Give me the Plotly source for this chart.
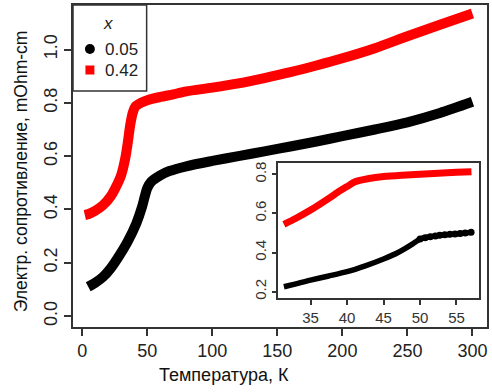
import plotly.graph_objects as go

# ---- data ----
t_black = [4.6, 10, 16, 22, 28.8, 35, 41.6, 46, 48, 50, 53, 60, 67, 80, 100, 120, 140, 160, 180, 200, 225, 250, 275, 300]
r_black = [0.11, 0.125, 0.147, 0.18, 0.229, 0.28, 0.348, 0.41, 0.447, 0.48, 0.504, 0.528, 0.544, 0.562, 0.582, 0.60, 0.618, 0.636, 0.655, 0.675, 0.70, 0.727, 0.762, 0.804]

t_red = [2, 5, 10, 16, 22, 26, 30, 33, 35, 37, 39, 41, 45, 50, 60, 70, 80, 100, 120, 140, 160, 180, 200, 225, 250, 275, 300]
r_red = [0.379, 0.383, 0.395, 0.416, 0.45, 0.485, 0.53, 0.59, 0.65, 0.72, 0.765, 0.787, 0.80, 0.81, 0.822, 0.832, 0.843, 0.857, 0.873, 0.893, 0.915, 0.94, 0.967, 1.005, 1.05, 1.093, 1.135]

ti_black = [31.35, 33, 35, 37.5, 40, 42.5, 45, 47, 48, 49, 50, 50.7, 51.4, 52.1, 52.7, 53.4, 54.1, 54.8, 55.5, 56.2, 57.0]
ri_black = [0.225, 0.24, 0.259, 0.28, 0.302, 0.332, 0.367, 0.40, 0.421, 0.444, 0.469, 0.476, 0.481, 0.485, 0.488, 0.491, 0.493, 0.495, 0.497, 0.50, 0.503]

ti_red = [31.35, 33, 35, 37.5, 39, 40, 41.1, 43, 45, 47.5, 50, 52.5, 55, 57.05]
ri_red = [0.544, 0.575, 0.617, 0.677, 0.715, 0.737, 0.762, 0.778, 0.788, 0.795, 0.80, 0.805, 0.81, 0.813]

series_names = ["0.05", "0.42"]
x_ticks_main = [0, 50, 100, 150, 200, 250, 300]
y_ticks_main = [0.0, 0.2, 0.4, 0.6, 0.8, 1.0]
y_ticklabels_main = ["0.0", "0.2", "0.4", "0.6", "0.8", "1.0"]
x_ticks_inset = [35, 40, 45, 50, 55]
y_ticks_inset = [0.2, 0.4, 0.6, 0.8]

# ---- layout helpers (pixel -> paper) ----
L, R, T, B = 73, 489, 5, 327
W, H = 492, 392
def px(X):
    return (X - L) / (R - L)
def py(Y):
    return (B - Y) / (B - T)

FONT = "Liberation Sans, Arial, sans-serif"
fig = go.Figure()

fig.add_trace(go.Scatter(x=t_black, y=r_black, mode="lines",
                         line=dict(color="black", width=10, shape="spline", smoothing=0.8),
                         showlegend=False, xaxis="x", yaxis="y"))
fig.add_trace(go.Scatter(x=t_red, y=r_red, mode="lines",
                         line=dict(color="#ff0000", width=10, shape="spline", smoothing=0.8),
                         showlegend=False, xaxis="x", yaxis="y"))

# inset: individual dots only visible above the kink (T >= 50)
dot_sizes = [7 if t >= 50 else 0 for t in ti_black]
fig.add_trace(go.Scatter(x=ti_black, y=ri_black, mode="lines+markers",
                         line=dict(color="black", width=5.5, shape="spline", smoothing=0.6),
                         marker=dict(color="black", size=dot_sizes, symbol="circle",
                                     line=dict(width=0), opacity=1),
                         showlegend=False, xaxis="x2", yaxis="y2"))
fig.add_trace(go.Scatter(x=ti_red, y=ri_red, mode="lines",
                         line=dict(color="#ff0000", width=7, shape="spline", smoothing=0.8),
                         showlegend=False, xaxis="x2", yaxis="y2"))

axis_common = dict(showline=True, mirror=True, linecolor="#333", linewidth=1.5,
                   ticks="outside", ticklen=7, tickcolor="#333", tickwidth=1.5,
                   showgrid=False, zeroline=False,
                   tickfont=dict(family=FONT, size=18, color="#222"))
inset_common = {**axis_common, "tickfont": dict(family=FONT, size=15, color="#333"), "ticklen": 5}

fig.update_layout(
    width=W, height=H,
    margin=dict(l=L, r=W - R, t=T, b=H - B),
    paper_bgcolor="white", plot_bgcolor="white",
    xaxis=dict(domain=[0, 1], range=[-7.1, 311.2], tickvals=x_ticks_main, **axis_common),
    yaxis=dict(domain=[0, 1], range=[-0.041, 1.167], tickvals=y_ticks_main,
               ticktext=y_ticklabels_main, tickangle=-90, **axis_common),
    xaxis2=dict(domain=[px(279.3), px(480.7)], anchor="y2", range=[30.58, 58.05],
                tickvals=x_ticks_inset, **inset_common),
    yaxis2=dict(domain=[py(298.3), py(163.3)], anchor="x2", range=[0.166, 0.856],
                tickvals=y_ticks_inset, tickangle=-90, tickformat=".1f", **inset_common),
)

# white background behind inset
fig.add_shape(type="rect", xref="paper", yref="paper",
              x0=px(279.3), x1=px(480.7), y0=py(298.3), y1=py(163.3),
              fillcolor="white", line=dict(width=0), layer="below")

# legend box
fig.add_shape(type="rect", xref="paper", yref="paper",
              x0=px(73), x1=px(147), y0=py(91), y1=py(5),
              fillcolor="white", line=dict(color="#333", width=1.5))
fig.add_shape(type="circle", xref="paper", yref="paper",
              x0=px(85), x1=px(95), y0=py(54), y1=py(44),
              fillcolor="black", line=dict(width=0))
fig.add_shape(type="rect", xref="paper", yref="paper",
              x0=px(85.5), x1=px(94.5), y0=py(74.5), y1=py(65.5),
              fillcolor="#ff0000", line=dict(width=0))
fig.add_annotation(xref="paper", yref="paper", x=px(108), y=py(24), text="<i>x</i>",
                   showarrow=False, xanchor="center", yanchor="middle",
                   font=dict(family=FONT, size=17, color="#222"))
fig.add_annotation(xref="paper", yref="paper", x=px(103), y=py(49), text=series_names[0],
                   showarrow=False, xanchor="left", yanchor="middle",
                   font=dict(family=FONT, size=17, color="#222"))
fig.add_annotation(xref="paper", yref="paper", x=px(103), y=py(70), text=series_names[1],
                   showarrow=False, xanchor="left", yanchor="middle",
                   font=dict(family=FONT, size=17, color="#222"))

# axis titles
fig.add_annotation(xref="paper", yref="paper", x=px(225), y=py(375), text="Температура, К",
                   showarrow=False, xanchor="center", yanchor="middle",
                   font=dict(family=FONT, size=18, color="#111"))
fig.add_annotation(xref="paper", yref="paper", x=px(21), y=py(171),
                   text="Электр. сопротивление, mOhm-cm", textangle=-90,
                   showarrow=False, xanchor="center", yanchor="middle",
                   font=dict(family=FONT, size=17.5, color="#111"))

fig.write_html("out.html")
